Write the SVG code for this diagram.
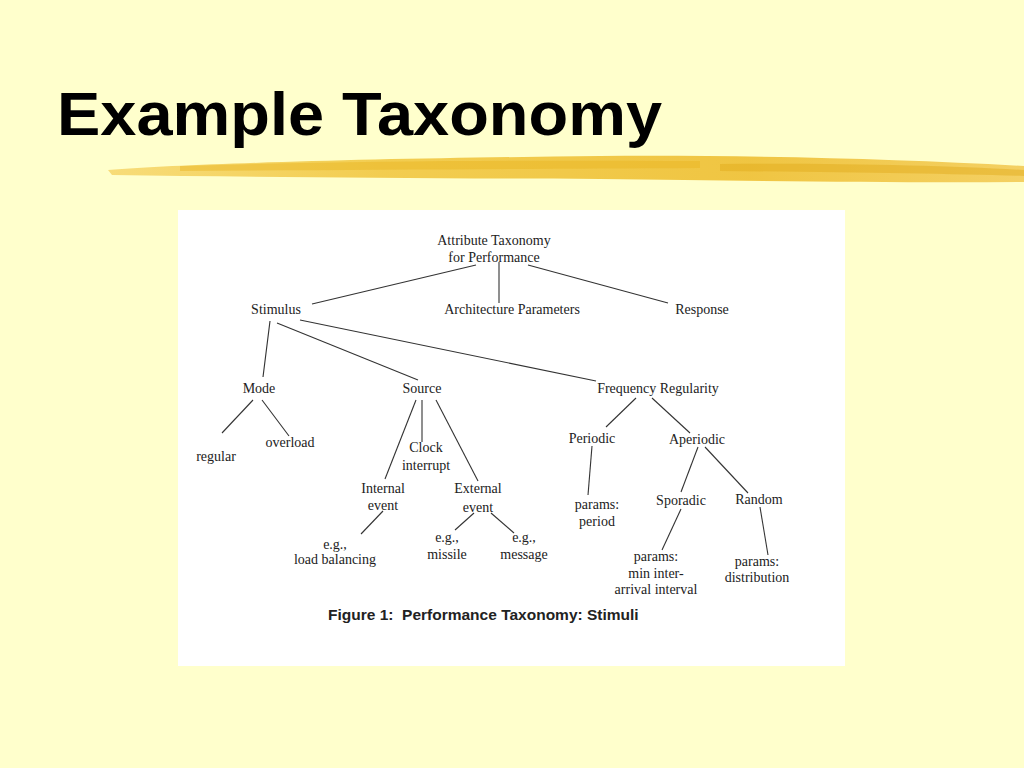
<svg xmlns="http://www.w3.org/2000/svg" width="1024" height="768" viewBox="0 0 1024 768">
<style>
.t{font-family:"Liberation Serif","Times New Roman",serif;font-size:14px;fill:#222;text-anchor:middle}
.c{stroke:#333;stroke-width:1.1;fill:none}
</style>
<defs>
<linearGradient id="brush" x1="0" y1="0" x2="1" y2="0">
<stop offset="0" stop-color="#F6D66A"/>
<stop offset="0.3" stop-color="#F0C43A"/>
<stop offset="0.7" stop-color="#EDBB2A"/>
<stop offset="1" stop-color="#F2C850"/>
</linearGradient>
</defs>
<rect width="1024" height="768" fill="#FFFFCC"/>
<text x="57" y="135" font-family="Liberation Sans,Arial,sans-serif" font-weight="bold" font-size="62" fill="#000" textLength="605" lengthAdjust="spacingAndGlyphs">Example Taxonomy</text>
<g id="brushstroke">
<path d="M108 170 C200 163 400 158 600 156 C760 155 900 159 1024 166 L1024 182 C900 183 760 181 600 179 C400 178 250 177 112 175 Z" fill="url(#brush)" opacity="0.85"/>
<path d="M180 166 C350 161 500 160 700 161 L700 168 C500 169 350 170 180 171 Z" fill="#E8B420" opacity="0.45"/>
<path d="M720 164 C850 163 950 166 1024 170 L1024 176 C950 174 850 172 720 171 Z" fill="#E0A818" opacity="0.45"/>
</g>
<rect x="178" y="210" width="667" height="456" fill="#FFFFFF"/>
<g id="connectors">
<line class="c" x1="476" y1="265" x2="312" y2="304"/>
<line class="c" x1="499" y1="262" x2="499" y2="303"/>
<line class="c" x1="528" y1="265" x2="668" y2="303"/>
<line class="c" x1="270" y1="321" x2="263" y2="377"/>
<line class="c" x1="277" y1="323" x2="418" y2="380"/>
<line class="c" x1="300" y1="320" x2="596" y2="381"/>
<line class="c" x1="253" y1="400" x2="222" y2="433"/>
<line class="c" x1="262" y1="400" x2="289" y2="436"/>
<line class="c" x1="416" y1="400" x2="385" y2="479"/>
<line class="c" x1="422" y1="400" x2="422" y2="442"/>
<line class="c" x1="436" y1="400" x2="478" y2="481"/>
<line class="c" x1="383" y1="511" x2="361" y2="534"/>
<line class="c" x1="474" y1="513" x2="455" y2="530"/>
<line class="c" x1="491" y1="513" x2="514" y2="533"/>
<line class="c" x1="636" y1="398" x2="606" y2="427"/>
<line class="c" x1="652" y1="398" x2="690" y2="433"/>
<line class="c" x1="592" y1="446" x2="588" y2="495"/>
<line class="c" x1="698" y1="447" x2="681" y2="492"/>
<line class="c" x1="705" y1="447" x2="748" y2="493"/>
<line class="c" x1="681" y1="509" x2="662" y2="550"/>
<line class="c" x1="760" y1="507" x2="768" y2="555"/>
</g>
<g id="root"><text class="t" x="494" y="245">Attribute Taxonomy</text><text class="t" x="494" y="262">for Performance</text></g>
<g id="stimulus"><text class="t" x="276" y="314">Stimulus</text></g>
<g id="arch"><text class="t" x="512" y="314">Architecture Parameters</text></g>
<g id="response"><text class="t" x="702" y="314">Response</text></g>
<g id="mode"><text class="t" x="259" y="393">Mode</text></g>
<g id="source"><text class="t" x="422" y="393">Source</text></g>
<g id="freq"><text class="t" x="658" y="393">Frequency Regularity</text></g>
<g id="regular"><text class="t" x="216" y="461">regular</text></g>
<g id="overload"><text class="t" x="290" y="447">overload</text></g>
<g id="clock"><text class="t" x="426" y="452">Clock</text><text class="t" x="426" y="470">interrupt</text></g>
<g id="internal"><text class="t" x="383" y="493">Internal</text><text class="t" x="383" y="510">event</text></g>
<g id="external"><text class="t" x="478" y="493">External</text><text class="t" x="478" y="512" font-size="16">event</text></g>
<g id="loadbal"><text class="t" x="335" y="549">e.g.,</text><text class="t" x="335" y="564">load balancing</text></g>
<g id="missile"><text class="t" x="447" y="542">e.g.,</text><text class="t" x="447" y="559">missile</text></g>
<g id="message"><text class="t" x="524" y="542">e.g.,</text><text class="t" x="524" y="559">message</text></g>
<g id="periodic"><text class="t" x="592" y="443">Periodic</text></g>
<g id="aperiodic"><text class="t" x="697" y="444">Aperiodic</text></g>
<g id="period"><text class="t" x="597" y="509">params:</text><text class="t" x="597" y="526">period</text></g>
<g id="sporadic"><text class="t" x="681" y="505">Sporadic</text></g>
<g id="random"><text class="t" x="759" y="504">Random</text></g>
<g id="minint"><text class="t" x="656" y="561">params:</text><text class="t" x="656" y="578">min inter-</text><text class="t" x="656" y="594">arrival interval</text></g>
<g id="dist"><text class="t" x="757" y="566">params:</text><text class="t" x="757" y="582">distribution</text></g>
<text x="328" y="620" font-family="Liberation Sans,Arial,sans-serif" font-weight="bold" font-size="15.5" fill="#222" xml:space="preserve">Figure 1:  Performance Taxonomy: Stimuli</text>
</svg>
